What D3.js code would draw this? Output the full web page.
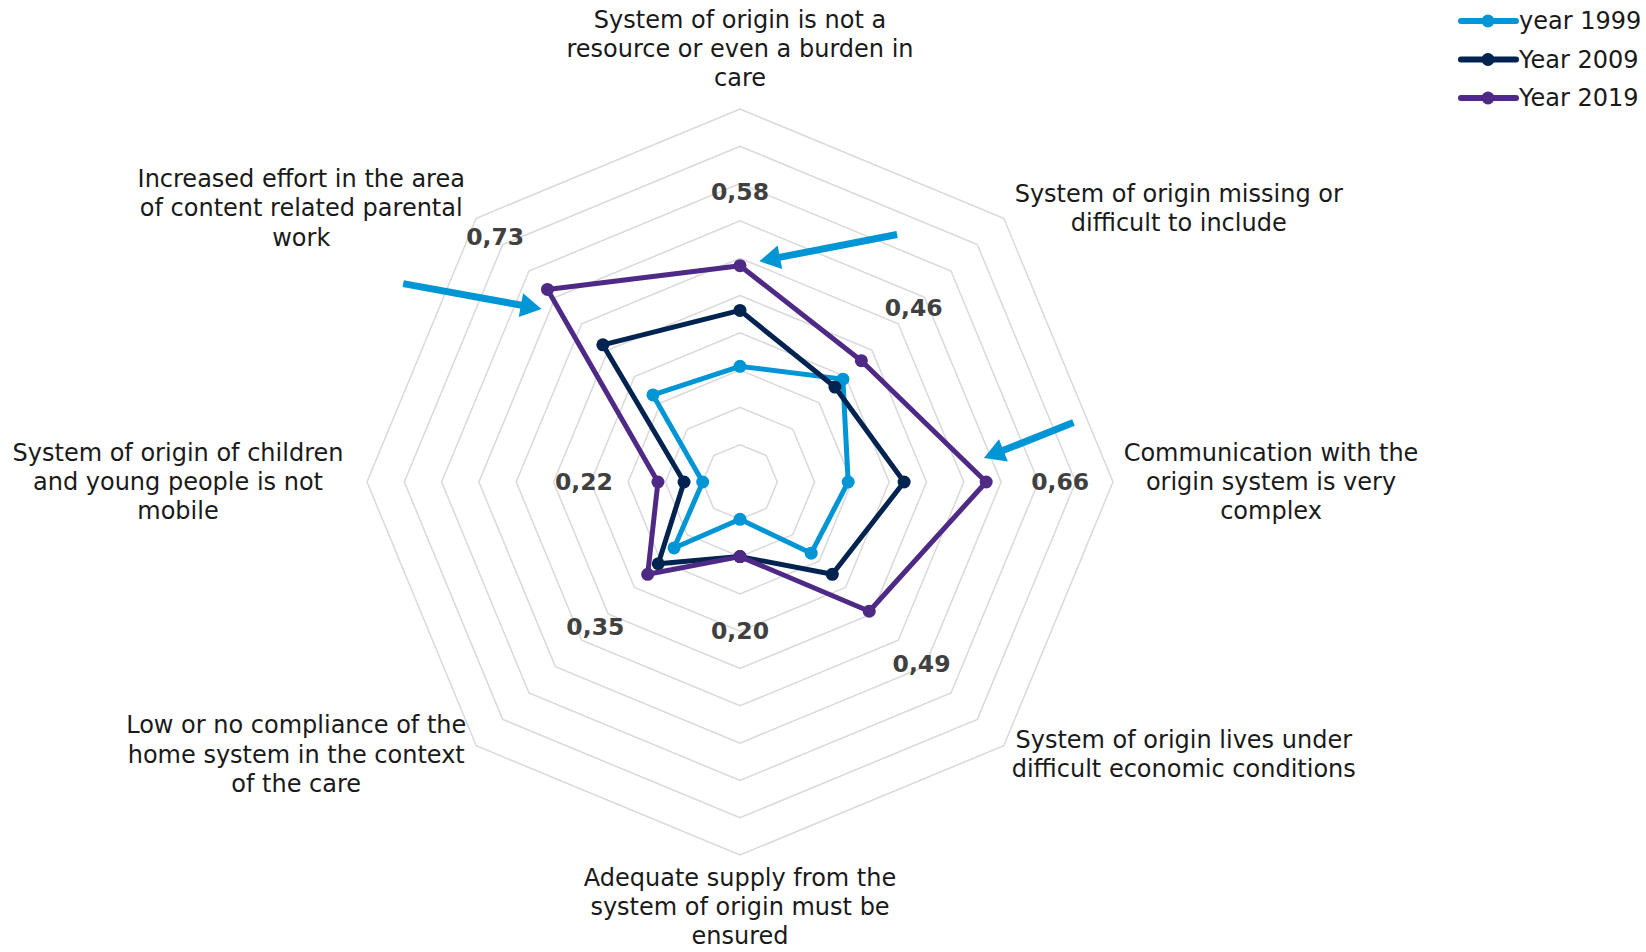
<!DOCTYPE html>
<html>
<head>
<meta charset="utf-8">
<script src="https://cdn.jsdelivr.net/npm/d3@7/dist/d3.min.js"></script>
<style>
  html, body { margin: 0; padding: 0; background: #ffffff; }
  svg { display: block; }
</style>
</head>
<body>
<svg id="chart" width="1646" height="952"></svg>
<script>
// ---------------- DATA ----------------
const categories = [
  ["System of origin is not a", "resource or even a burden in", "care"],
  ["System of origin missing or", "difficult to include"],
  ["Communication with the", "origin system is very", "complex"],
  ["System of origin lives under", "difficult economic conditions"],
  ["Adequate supply from the", "system of origin must be", "ensured"],
  ["Low or no compliance of the", "home system in the context", "of the care"],
  ["System of origin of children", "and young people is not", "mobile"],
  ["Increased effort in the area", "of content related parental", "work"]
];
const seriesNames = ["year 1999", "Year 2009", "Year 2019"];
const values1999 = [0.31, 0.39, 0.29, 0.27, 0.10, 0.25, 0.10, 0.33];
const values2009 = [0.46, 0.36, 0.44, 0.35, 0.20, 0.31, 0.15, 0.52];
const values2019 = [0.58, 0.46, 0.66, 0.49, 0.20, 0.35, 0.22, 0.73];
const valueLabels2019 = ["0,58", "0,46", "0,66", "0,49", "0,20", "0,35", "0,22", "0,73"];
const gridTicks = [0.1, 0.2, 0.3, 0.4, 0.5, 0.6, 0.7, 0.8, 0.9, 1.0];
// annotation arrows: [angle deg (clockwise from top), radius value] for tail and tip
const arrowTails = [[32.4, 0.786], [-59.5, 1.048], [79.9, 0.908]];
const arrowTips  = [[5.0, 0.594], [-48.9, 0.706], [84.4, 0.657]];

// ---------------- LAYOUT ----------------
const cx = 740, cy = 482, R = 373;
const colors = ["#0096D6", "#002350", "#4F2986"];
const labelOffsets = [[0, -60], [175, -10], [158, 0], [180, 9], [0, 52], [-180, 9], [-189, 0], [-175, -10]];

const svg = d3.select("#chart");
const r = d3.scaleLinear().domain([0, 1]).range([0, R]);
const n = categories.length;
const angle = i => i * 2 * Math.PI / n;
const px = (a, v) => cx + r(v) * Math.sin(a);
const py = (a, v) => cy - r(v) * Math.cos(a);

const g = svg.append("g");

// grid octagons
const gridLine = d3.lineRadial()
  .angle((d, i) => angle(i))
  .radius(d => r(d))
  .curve(d3.curveLinearClosed);
g.append("g").attr("transform", `translate(${cx},${cy})`)
  .selectAll("path").data(gridTicks).join("path")
  .attr("d", t => gridLine(d3.range(n).map(() => t)))
  .attr("fill", "none")
  .attr("stroke", "#D9D9D9")
  .attr("stroke-width", 1.5);

// series
const allSeries = [values1999, values2009, values2019];
const seriesLine = d3.lineRadial()
  .angle((d, i) => angle(i))
  .radius(d => r(d))
  .curve(d3.curveLinearClosed);
allSeries.forEach((vals, s) => {
  const sg = g.append("g").attr("transform", `translate(${cx},${cy})`);
  sg.append("path")
    .attr("d", seriesLine(vals))
    .attr("fill", "none")
    .attr("stroke", colors[s])
    .attr("stroke-width", 5)
    .attr("stroke-linejoin", "round");
  sg.selectAll("circle").data(vals).join("circle")
    .attr("cx", (d, i) => r(d) * Math.sin(angle(i)))
    .attr("cy", (d, i) => -r(d) * Math.cos(angle(i)))
    .attr("r", 6.5)
    .attr("fill", colors[s]);
});

// value labels for 2019
g.selectAll("text.val").data(values2019).join("text")
  .attr("class", "val")
  .attr("x", (d, i) => cx + (r(d) + 74) * Math.sin(angle(i)))
  .attr("y", (d, i) => cy - (r(d) + 74) * Math.cos(angle(i)))
  .attr("text-anchor", "middle")
  .attr("dominant-baseline", "central")
  .attr("font-family", "DejaVu Sans, Verdana, sans-serif")
  .attr("font-weight", "bold")
  .attr("font-size", 23.5)
  .attr("fill", "#404040")
  .text((d, i) => valueLabels2019[i]);

// category labels
const lh = 29.4;
categories.forEach((lines, i) => {
  const a = angle(i);
  const x0 = px(a, 1) + labelOffsets[i][0];
  const y0 = py(a, 1) + labelOffsets[i][1];
  const t = g.append("text")
    .attr("text-anchor", "middle")
    .attr("font-family", "DejaVu Sans, Verdana, sans-serif")
    .attr("font-size", 24)
    .attr("fill", "#1a1a1a");
  lines.forEach((ln, k) => {
    t.append("tspan")
      .attr("x", x0)
      .attr("y", y0 + (k - (lines.length - 1) / 2) * lh)
      .attr("dominant-baseline", "central")
      .text(ln);
  });
});

// arrows
const toRad = d => d * Math.PI / 180;
arrowTails.forEach((tail, k) => {
  const tip = arrowTips[k];
  const x1 = px(toRad(tail[0]), tail[1]), y1 = py(toRad(tail[0]), tail[1]);
  const x2 = px(toRad(tip[0]), tip[1]), y2 = py(toRad(tip[0]), tip[1]);
  const dx = x2 - x1, dy = y2 - y1, L = Math.hypot(dx, dy);
  const ux = dx / L, uy = dy / L;
  const headL = 21, headW = 12;
  const bx = x2 - ux * headL, by = y2 - uy * headL;
  g.append("line")
    .attr("x1", x1).attr("y1", y1).attr("x2", bx + ux * 2).attr("y2", by + uy * 2)
    .attr("stroke", colors[0]).attr("stroke-width", 7);
  g.append("path")
    .attr("d", `M${x2},${y2} L${bx - uy * headW},${by + ux * headW} L${bx + uy * headW},${by - ux * headW} Z`)
    .attr("fill", colors[0]);
});

// legend
const legend = svg.append("g");
seriesNames.forEach((name, s) => {
  const y = 21 + s * 38.5;
  legend.append("line")
    .attr("x1", 1461).attr("x2", 1516).attr("y1", y).attr("y2", y)
    .attr("stroke", colors[s]).attr("stroke-width", 6).attr("stroke-linecap", "round");
  legend.append("circle").attr("cx", 1488).attr("cy", y).attr("r", 6.5).attr("fill", colors[s]);
  legend.append("text")
    .attr("x", 1519).attr("y", y)
    .attr("dominant-baseline", "central")
    .attr("font-family", "DejaVu Sans, Verdana, sans-serif")
    .attr("font-size", 24)
    .attr("fill", "#1a1a1a")
    .text(name);
});
</script>
</body>
</html>
